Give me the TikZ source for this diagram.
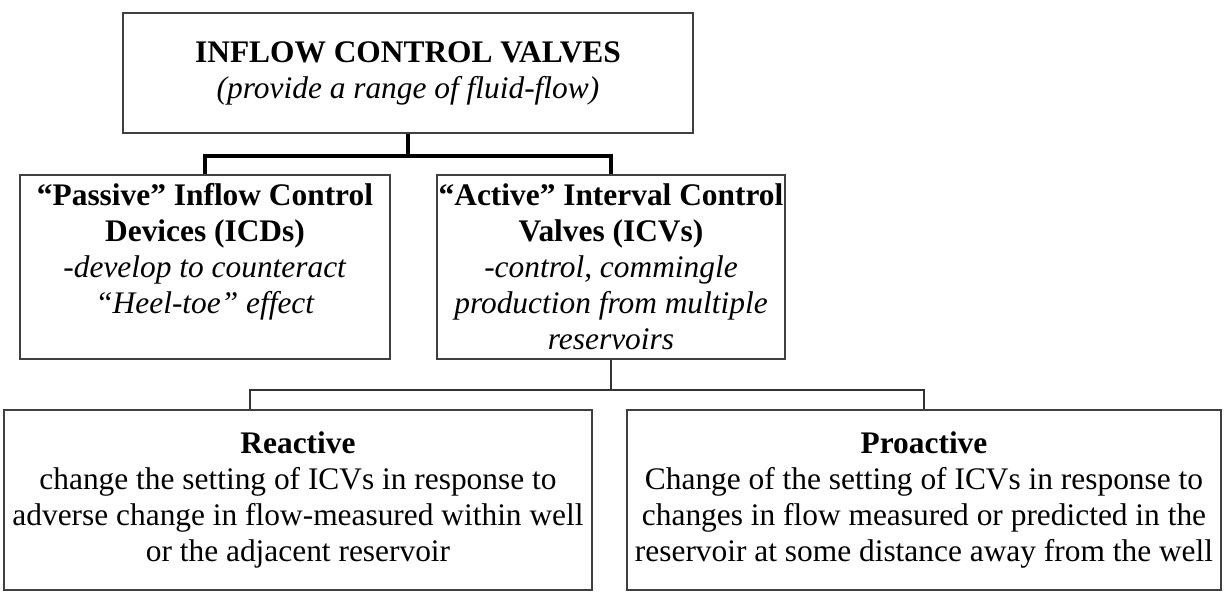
\documentclass[tikz,border=0pt]{standalone}
\usepackage{fontspec}
\setmainfont{Liberation Serif}
\begin{document}
\begin{tikzpicture}[x=0.5pt,y=-0.5pt,level distance=20pt,growth parent anchor=south]
	\tikzstyle{box}=[draw=black!75,line width=1pt,align=center,inner xsep=1pt,inner ysep=2pt,font=\fontsize{15.7}{18}\selectfont]
	\tikzstyle{every child node}=[anchor=north]
	\tikzstyle{level 1}=[sibling distance=203pt,
		edge from parent/.style={draw,line width=1.6pt},
		edge from parent path={(\tikzparentnode.south) -- ++(0,22) -| (\tikzchildnode.north)}]
	\tikzstyle{level 2}=[sibling distance=313pt,level distance=24.5pt,
		edge from parent/.style={draw=black!80,line width=1pt},
		edge from parent path={(\tikzparentnode.south) -- ++(0,30) -| (\tikzchildnode.north)}]
	\useasboundingbox (0,0) rectangle (1224,594);
	\node[box,minimum width=285pt,minimum height=60pt] (valves) at (408,73)
		{\textbf{INFLOW CONTROL VALVES}\\ \textit{(provide a range of fluid-flow)}}
		child {node[box,minimum width=185pt,text height=67pt,text depth=21pt] (icd)
			{\textbf{“Passive” Inflow Control}\\ \textbf{Devices (ICDs)}\\
			 \textit{-develop to counteract}\\ \textit{“Heel-toe” effect}}}
		child {node[box,minimum width=174pt,text height=85pt,text depth=3pt] (icv)
			{\textbf{“Active” Interval Control}\\ \textbf{Valves (ICVs)}\\
			 \textit{-control, commingle}\\ \textit{production from multiple}\\ \textit{reservoirs}}
			% the left drop meets the box off its centre
			child[edge from parent path={(\tikzparentnode.south) -- ++(0,30) -| ([xshift=-24pt]\tikzchildnode.north)}]
				{node[box,minimum width=294pt,minimum height=90pt] (reactive)
				{\textbf{Reactive}\\ change the setting of ICVs in response to\\
				 adverse change in flow-measured within well\\ or the adjacent reservoir}}
			child {node[box,minimum width=297pt,minimum height=90pt] (proactive)
				{\textbf{Proactive}\\ Change of the setting of ICVs in response to\\
				 changes in flow measured or predicted in the\\ reservoir at some distance away from the well}}};
\end{tikzpicture}
\end{document}
